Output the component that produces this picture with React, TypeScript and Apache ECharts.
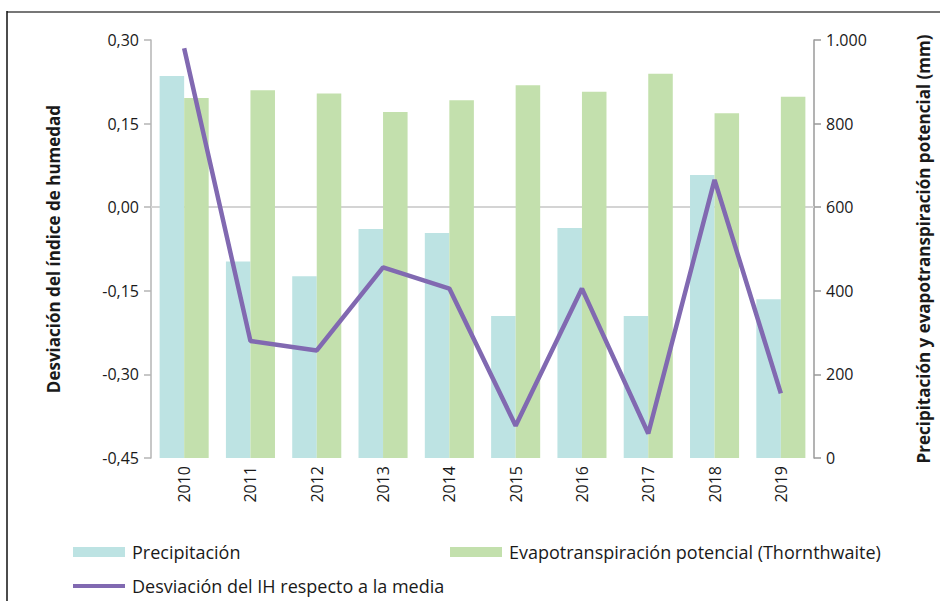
import React, { useEffect, useRef } from "react";
import * as echarts from "echarts";

const years = ["2010", "2011", "2012", "2013", "2014", "2015", "2016", "2017", "2018", "2019"];
const precipitacion = [914, 470, 435, 548, 538, 340, 550, 340, 677, 380];
const evapotranspiracion = [861, 880, 872, 828, 856, 892, 876, 919, 825, 864];
const desviacionIH = [0.285, -0.24, -0.257, -0.108, -0.146, -0.392, -0.146, -0.406, 0.049, -0.334];

const FONT = "'Open Sans', 'Noto Sans', sans-serif";
const TEXT = "#1a1a1a";

export default function App() {
  const ref = useRef<HTMLDivElement>(null);
  useEffect(() => {
    if (!ref.current) return;
    const chart = echarts.init(ref.current, undefined, { renderer: "svg" });
    const legendBase = {
      orient: "horizontal" as const,
      padding: 0,
      itemWidth: 52,
      itemGap: 8,
      textStyle: { fontFamily: FONT, fontSize: 18, color: TEXT, lineHeight: 22, padding: [0, 0, 0, 2] },
    };
    chart.setOption({
      animation: false,
      backgroundColor: "#ffffff",
      textStyle: { fontFamily: FONT },
      grid: { left: 151, right: 123, top: 40, bottom: 143, containLabel: false },
      legend: [
        { ...legendBase, left: 73, top: 541, itemHeight: 10, data: [{ name: "Precipitación", icon: "rect" }] },
        {
          ...legendBase,
          left: 450,
          top: 541,
          itemHeight: 10,
          data: [{ name: "Evapotranspiración potencial (Thornthwaite)", icon: "rect" }],
        },
        { ...legendBase, left: 73, top: 575, itemHeight: 4, data: [{ name: "Desviación del IH respecto a la media", icon: "rect" }] },
      ],
      graphic: [
        { type: "line", shape: { x1: 7, y1: 12, x2: 940, y2: 12 }, style: { stroke: "#777777", lineWidth: 2 } },
        { type: "line", shape: { x1: 7, y1: 11, x2: 7, y2: 601 }, style: { stroke: "#111111", lineWidth: 1.5 } },
      ],
      xAxis: {
        type: "category",
        data: years,
        axisLine: { show: true, lineStyle: { color: "#d4d4d4", width: 2 } },
        axisTick: { show: false },
        axisLabel: { rotate: 90, fontSize: 16, color: TEXT, fontFamily: FONT, margin: 8 },
      },
      yAxis: [
        {
          type: "value",
          min: -0.45,
          max: 0.3,
          interval: 0.15,
          position: "left",
          name: "Desviación del índice de humedad",
          nameLocation: "middle",
          nameRotate: 90,
          nameGap: 89,
          nameTextStyle: { fontFamily: FONT, fontSize: 17, fontWeight: "bold", color: TEXT },
          axisLine: { show: true, lineStyle: { color: "#b5b5b5", width: 1.5 } },
          axisTick: { show: true, length: 7, lineStyle: { color: "#b5b5b5", width: 1.5 } },
          splitLine: { show: false },
          axisLabel: {
            fontSize: 16,
            color: TEXT,
            fontFamily: FONT,
            margin: 12,
            formatter: (v: number) => v.toFixed(2).replace(".", ","),
          },
        },
        {
          type: "value",
          min: 0,
          max: 1000,
          interval: 200,
          position: "right",
          name: "Precipitación y evapotranspiración potencial (mm)",
          nameLocation: "middle",
          nameRotate: 90,
          nameGap: 101,
          nameTextStyle: { fontFamily: FONT, fontSize: 17, fontWeight: "bold", color: TEXT },
          axisLine: { show: true, lineStyle: { color: "#9a9a9a", width: 1.5 } },
          axisTick: { show: true, length: 7, lineStyle: { color: "#9a9a9a", width: 1.5 } },
          splitLine: { show: false },
          axisLabel: {
            fontSize: 16,
            color: TEXT,
            fontFamily: FONT,
            margin: 12,
            formatter: (v: number) => String(v).replace(/\B(?=(\d{3})+(?!\d))/g, "."),
          },
        },
      ],
      series: [
        {
          name: "Precipitación",
          type: "bar",
          yAxisIndex: 1,
          data: precipitacion,
          itemStyle: { color: "#bde3e3" },
          barGap: "0%",
          barCategoryGap: "26%",
        },
        {
          name: "Evapotranspiración potencial (Thornthwaite)",
          type: "bar",
          yAxisIndex: 1,
          data: evapotranspiracion,
          itemStyle: { color: "#c3e0ad" },
          barGap: "0%",
          barCategoryGap: "26%",
        },
        {
          name: "Desviación del IH respecto a la media",
          type: "line",
          yAxisIndex: 0,
          data: desviacionIH,
          showSymbol: false,
          symbol: "none",
          lineStyle: { color: "#8169b1", width: 4.5 },
          itemStyle: { color: "#8169b1" },
          z: 5,
        },
      ],
    });
    return () => chart.dispose();
  }, []);
  return (
    <div
      ref={ref}
      style={{ position: "absolute", left: 0, top: 0, width: 940, height: 601, background: "#fff" }}
    />
  );
}
